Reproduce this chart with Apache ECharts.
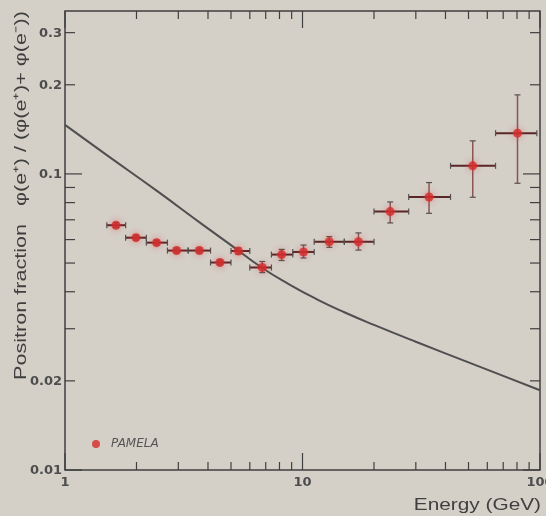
<!DOCTYPE html>
<html><head><meta charset="utf-8">
<script src="https://cdn.jsdelivr.net/npm/echarts@6/dist/echarts.min.js"></script>
<style>html,body{margin:0;padding:0;background:#d4cfc7;}#c{width:546px;height:516px;}</style>
</head><body><div id="c"></div>
<script>
// PAMELA positron fraction data
const energy   = [1.64, 1.99, 2.43, 2.95, 3.68, 4.49, 5.37, 6.77, 8.17, 10.1, 12.97, 17.2, 23.4, 34.1, 52.1, 80.4];
const fraction = [0.0671, 0.0609, 0.0586, 0.0551, 0.0551, 0.0502, 0.0549, 0.0483, 0.0534, 0.0545, 0.0590, 0.0590, 0.0746, 0.0836, 0.1065, 0.1373];
const binLow   = [1.5, 1.8, 2.2, 2.7, 3.3, 4.1, 5.0, 6.0, 7.4, 9.1, 11.2, 15, 20, 28, 42, 65];
const binHigh  = [1.8, 2.2, 2.7, 3.3, 4.1, 5.0, 6.0, 7.4, 9.1, 11.2, 15, 20, 28, 42, 65, 97];
const errLow   = [0.0659, 0.0598, 0.0576, 0.0541, 0.0541, 0.0493, 0.0537, 0.0464, 0.0510, 0.0520, 0.0565, 0.0553, 0.0683, 0.0736, 0.0834, 0.0930];
const errHigh  = [0.0684, 0.0621, 0.0597, 0.0562, 0.0562, 0.0512, 0.0562, 0.0506, 0.0556, 0.0575, 0.0614, 0.0632, 0.0804, 0.0935, 0.1293, 0.1849];

// secondary production curve
const curveE = [1, 1.5, 2.43, 3.81, 4.95, 6.75, 8.86, 11.5, 15, 20, 30, 50, 70, 100];
const curveF = [0.1464, 0.1157, 0.0878, 0.0673, 0.0578, 0.0482, 0.0422, 0.0377, 0.0341, 0.0309, 0.0271, 0.0231, 0.0208, 0.0186];

// ticks
const xTickMajor = [1, 10, 100];
const xTickMinor = [2, 3, 4, 5, 6, 7, 8, 9, 20, 30, 40, 50, 60, 70, 80, 90];
const yTickMajor = [0.01, 0.1];
const yTickMinor = [0.02, 0.03, 0.04, 0.05, 0.06, 0.07, 0.08, 0.09, 0.2, 0.3];
const yTickLabels = [0.01, 0.02, 0.1, 0.2, 0.3];

const X_MIN = 1, X_MAX = 100, Y_MIN = 0.01, Y_MAX = 0.355;
const AX = '#404040';

const errData = energy.map((e, i) => [e, fraction[i], binLow[i], binHigh[i], errLow[i], errHigh[i]]);
const ptData = energy.map((e, i) => [e, fraction[i]]);
const curveData = curveE.map((e, i) => [e, curveF[i]]);

const chart = echarts.init(document.getElementById('c'), null, {renderer: 'canvas'});

function ln(x1, y1, x2, y2, stroke, w) {
  return {type: 'line', shape: {x1, y1, x2, y2}, style: {stroke, lineWidth: w}};
}

const option = {
  backgroundColor: '#d4cfc7',
  animation: false,
  grid: {left: 65, top: 11, right: 6, bottom: 46, show: true, borderColor: AX, borderWidth: 1.5,
    backgroundColor: 'transparent', outerBoundsMode: 'none', containLabel: false},
  legend: {
    data: ['PAMELA'], left: 87, top: 433, icon: 'circle', itemWidth: 20, itemHeight: 8,
    textStyle: {fontStyle: 'italic', fontSize: 12, color: '#555', fontFamily: 'DejaVu Sans'}
  },
  xAxis: {
    type: 'log', logBase: 10, min: X_MIN, max: X_MAX,
    axisLine: {show: false}, axisTick: {show: false}, splitLine: {show: false},
    axisLabel: {color: '#4d4d4d', fontWeight: 'bold', fontSize: 13, fontFamily: 'DejaVu Sans', margin: 6,
      showMaxLabel: true, showMinLabel: true, hideOverlap: false,
      formatter: v => String(Math.round(v))}
  },
  yAxis: {
    type: 'log', logBase: 10, min: Y_MIN, max: Y_MAX,
    axisLine: {show: false}, axisTick: {show: false}, splitLine: {show: false}, axisLabel: {show: false}
  },
  graphic: [
    {type: 'text', x: 21, y: 11, rotation: Math.PI / 2, scaleX: 1.27,
      style: {text: 'Positron fraction   φ(e⁺) / (φ(e⁺)+ φ(e⁻))', font: '17px "Liberation Sans"', fill: '#3f3f3f',
        textAlign: 'right', align: 'right', textVerticalAlign: 'middle', verticalAlign: 'middle'}},
    {type: 'text', x: 541, y: 506, scaleX: 1.3,
      style: {text: 'Energy (GeV)', font: '16px "Liberation Sans"', fill: '#3f3f3f',
        textAlign: 'right', align: 'right', textVerticalAlign: 'middle', verticalAlign: 'middle'}}
  ],
  series: [
    {
      type: 'custom', coordinateSystem: 'cartesian2d', silent: true, z: 5,
      data: [[X_MIN, Y_MIN]],
      renderItem: (params, api) => {
        const cs = params.coordSys;
        const L = cs.x, R = cs.x + cs.width, T = cs.y, B = cs.y + cs.height;
        const ch = [];
        xTickMajor.forEach(v => { const p = api.coord([v, Y_MIN])[0]; ch.push(ln(p, B, p, B - 17, AX, 1.2), ln(p, T, p, T + 17, AX, 1.2)); });
        xTickMinor.forEach(v => { const p = api.coord([v, Y_MIN])[0]; ch.push(ln(p, B, p, B - 8, AX, 1.2), ln(p, T, p, T + 8, AX, 1.2)); });
        yTickMajor.forEach(v => { const p = api.coord([X_MIN, v])[1]; ch.push(ln(L, p, L + 17, p, AX, 1.2), ln(R, p, R - 17, p, AX, 1.2)); });
        yTickMinor.forEach(v => { const p = api.coord([X_MIN, v])[1]; ch.push(ln(L, p, L + 10, p, AX, 1.2), ln(R, p, R - 10, p, AX, 1.2)); });
        yTickLabels.forEach(v => {
          const p = api.coord([X_MIN, v])[1];
          ch.push({type: 'text', x: L - 3, y: p + 1, style: {text: String(v), font: 'bold 13px "DejaVu Sans"', fill: '#4d4d4d',
            textAlign: 'right', align: 'right', textVerticalAlign: 'middle', verticalAlign: 'middle'}});
        });
        return {type: 'group', children: ch};
      }
    },
    {
      name: 'curve', type: 'line', data: curveData, smooth: 0.5, showSymbol: false, silent: true,
      lineStyle: {color: '#4f4f4f', width: 2}, z: 3
    },
    {
      type: 'custom', coordinateSystem: 'cartesian2d', silent: true, z: 4,
      data: errData, encode: {x: 0, y: 1},
      renderItem: (params, api) => {
        const c = api.coord([api.value(0), api.value(1)]);
        const l = api.coord([api.value(2), api.value(1)]);
        const r = api.coord([api.value(3), api.value(1)]);
        const lo = api.coord([api.value(0), api.value(4)]);
        const hi = api.coord([api.value(0), api.value(5)]);
        const cap = 3;
        const hc = '#5a2626', vc = '#8a5555', cc = '#555050';
        return {type: 'group', children: [
          ln(l[0], c[1], r[0], c[1], hc, 2),
          ln(l[0], c[1] - cap, l[0], c[1] + cap, cc, 1.2),
          ln(r[0], c[1] - cap, r[0], c[1] + cap, cc, 1.2),
          ln(c[0], lo[1], c[0], hi[1], vc, 1.5),
          ln(c[0] - cap, lo[1], c[0] + cap, lo[1], cc, 1.2),
          ln(c[0] - cap, hi[1], c[0] + cap, hi[1], cc, 1.2)
        ]};
      }
    },
    {
      name: 'PAMELA', type: 'scatter', data: ptData, symbol: 'circle', symbolSize: 9, z: 6,
      itemStyle: {color: '#d42a2a', shadowBlur: 6, shadowColor: 'rgba(230,60,60,0.6)'}
    }
  ]
};
chart.setOption(option);
</script>
</body></html>
